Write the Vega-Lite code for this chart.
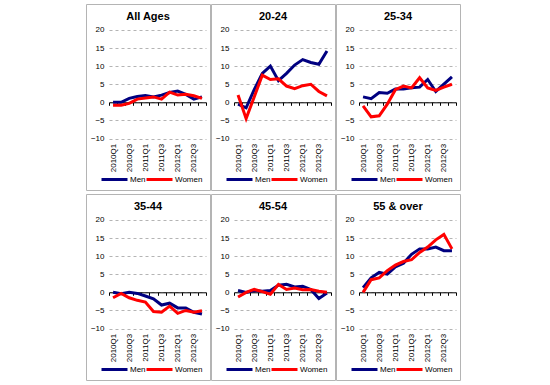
{
  "$schema": "https://vega.github.io/schema/vega-lite/v6.json",
  "padding": {"left": 81, "top": 3, "right": 0, "bottom": 0},
  "bounds": "flush",
  "datasets": {
    "d": [
      {"g": "All Ages", "s": "Men", "q": "2010Q1", "v": 0},
      {"g": "All Ages", "s": "Men", "q": "2010Q2", "v": 0},
      {"g": "All Ages", "s": "Men", "q": "2010Q3", "v": 1.1},
      {"g": "All Ages", "s": "Men", "q": "2010Q4", "v": 1.6},
      {"g": "All Ages", "s": "Men", "q": "2011Q1", "v": 1.9},
      {"g": "All Ages", "s": "Men", "q": "2011Q2", "v": 1.5},
      {"g": "All Ages", "s": "Men", "q": "2011Q3", "v": 2},
      {"g": "All Ages", "s": "Men", "q": "2011Q4", "v": 2.7},
      {"g": "All Ages", "s": "Men", "q": "2012Q1", "v": 3.1},
      {"g": "All Ages", "s": "Men", "q": "2012Q2", "v": 2.2},
      {"g": "All Ages", "s": "Men", "q": "2012Q3", "v": 0.9},
      {"g": "All Ages", "s": "Men", "q": "2012Q4", "v": 1.5},
      {"g": "All Ages", "s": "Women", "q": "2010Q1", "v": -0.8},
      {"g": "All Ages", "s": "Women", "q": "2010Q2", "v": -0.8},
      {"g": "All Ages", "s": "Women", "q": "2010Q3", "v": -0.3},
      {"g": "All Ages", "s": "Women", "q": "2010Q4", "v": 0.9},
      {"g": "All Ages", "s": "Women", "q": "2011Q1", "v": 1.2},
      {"g": "All Ages", "s": "Women", "q": "2011Q2", "v": 1.5},
      {"g": "All Ages", "s": "Women", "q": "2011Q3", "v": 0.9},
      {"g": "All Ages", "s": "Women", "q": "2011Q4", "v": 2.8},
      {"g": "All Ages", "s": "Women", "q": "2012Q1", "v": 2},
      {"g": "All Ages", "s": "Women", "q": "2012Q2", "v": 2.2},
      {"g": "All Ages", "s": "Women", "q": "2012Q3", "v": 1.8},
      {"g": "All Ages", "s": "Women", "q": "2012Q4", "v": 1.1},

      {"g": "20-24", "s": "Men", "q": "2010Q1", "v": -0.5},
      {"g": "20-24", "s": "Men", "q": "2010Q2", "v": -1.5},
      {"g": "20-24", "s": "Men", "q": "2010Q3", "v": 3.5},
      {"g": "20-24", "s": "Men", "q": "2010Q4", "v": 8},
      {"g": "20-24", "s": "Men", "q": "2011Q1", "v": 10},
      {"g": "20-24", "s": "Men", "q": "2011Q2", "v": 6},
      {"g": "20-24", "s": "Men", "q": "2011Q3", "v": 8},
      {"g": "20-24", "s": "Men", "q": "2011Q4", "v": 10.3},
      {"g": "20-24", "s": "Men", "q": "2012Q1", "v": 11.8},
      {"g": "20-24", "s": "Men", "q": "2012Q2", "v": 11},
      {"g": "20-24", "s": "Men", "q": "2012Q3", "v": 10.5},
      {"g": "20-24", "s": "Men", "q": "2012Q4", "v": 14.2},
      {"g": "20-24", "s": "Women", "q": "2010Q1", "v": 2},
      {"g": "20-24", "s": "Women", "q": "2010Q2", "v": -4.5},
      {"g": "20-24", "s": "Women", "q": "2010Q3", "v": 1.5},
      {"g": "20-24", "s": "Women", "q": "2010Q4", "v": 7.5},
      {"g": "20-24", "s": "Women", "q": "2011Q1", "v": 6.3},
      {"g": "20-24", "s": "Women", "q": "2011Q2", "v": 6.5},
      {"g": "20-24", "s": "Women", "q": "2011Q3", "v": 4.5},
      {"g": "20-24", "s": "Women", "q": "2011Q4", "v": 3.8},
      {"g": "20-24", "s": "Women", "q": "2012Q1", "v": 4.6},
      {"g": "20-24", "s": "Women", "q": "2012Q2", "v": 5},
      {"g": "20-24", "s": "Women", "q": "2012Q3", "v": 3},
      {"g": "20-24", "s": "Women", "q": "2012Q4", "v": 1.8},

      {"g": "25-34", "s": "Men", "q": "2010Q1", "v": 1.5},
      {"g": "25-34", "s": "Men", "q": "2010Q2", "v": 1},
      {"g": "25-34", "s": "Men", "q": "2010Q3", "v": 2.7},
      {"g": "25-34", "s": "Men", "q": "2010Q4", "v": 2.5},
      {"g": "25-34", "s": "Men", "q": "2011Q1", "v": 3.7},
      {"g": "25-34", "s": "Men", "q": "2011Q2", "v": 3.7},
      {"g": "25-34", "s": "Men", "q": "2011Q3", "v": 4},
      {"g": "25-34", "s": "Men", "q": "2011Q4", "v": 4.2},
      {"g": "25-34", "s": "Men", "q": "2012Q1", "v": 6.3},
      {"g": "25-34", "s": "Men", "q": "2012Q2", "v": 3},
      {"g": "25-34", "s": "Men", "q": "2012Q3", "v": 5},
      {"g": "25-34", "s": "Men", "q": "2012Q4", "v": 7},
      {"g": "25-34", "s": "Women", "q": "2010Q1", "v": -1},
      {"g": "25-34", "s": "Women", "q": "2010Q2", "v": -4},
      {"g": "25-34", "s": "Women", "q": "2010Q3", "v": -3.7},
      {"g": "25-34", "s": "Women", "q": "2010Q4", "v": -0.5},
      {"g": "25-34", "s": "Women", "q": "2011Q1", "v": 3.5},
      {"g": "25-34", "s": "Women", "q": "2011Q2", "v": 4.5},
      {"g": "25-34", "s": "Women", "q": "2011Q3", "v": 4},
      {"g": "25-34", "s": "Women", "q": "2011Q4", "v": 6.8},
      {"g": "25-34", "s": "Women", "q": "2012Q1", "v": 4},
      {"g": "25-34", "s": "Women", "q": "2012Q2", "v": 3.3},
      {"g": "25-34", "s": "Women", "q": "2012Q3", "v": 4.2},
      {"g": "25-34", "s": "Women", "q": "2012Q4", "v": 5},

      {"g": "35-44", "s": "Men", "q": "2010Q1", "v": 0},
      {"g": "35-44", "s": "Men", "q": "2010Q2", "v": -0.4},
      {"g": "35-44", "s": "Men", "q": "2010Q3", "v": 0},
      {"g": "35-44", "s": "Men", "q": "2010Q4", "v": -0.3},
      {"g": "35-44", "s": "Men", "q": "2011Q1", "v": -1},
      {"g": "35-44", "s": "Men", "q": "2011Q2", "v": -1.8},
      {"g": "35-44", "s": "Men", "q": "2011Q3", "v": -3.5},
      {"g": "35-44", "s": "Men", "q": "2011Q4", "v": -3},
      {"g": "35-44", "s": "Men", "q": "2012Q1", "v": -4.3},
      {"g": "35-44", "s": "Men", "q": "2012Q2", "v": -4.3},
      {"g": "35-44", "s": "Men", "q": "2012Q3", "v": -5.5},
      {"g": "35-44", "s": "Men", "q": "2012Q4", "v": -6},
      {"g": "35-44", "s": "Women", "q": "2010Q1", "v": -1.5},
      {"g": "35-44", "s": "Women", "q": "2010Q2", "v": -0.3},
      {"g": "35-44", "s": "Women", "q": "2010Q3", "v": -1.5},
      {"g": "35-44", "s": "Women", "q": "2010Q4", "v": -2.2},
      {"g": "35-44", "s": "Women", "q": "2011Q1", "v": -2.7},
      {"g": "35-44", "s": "Women", "q": "2011Q2", "v": -5.3},
      {"g": "35-44", "s": "Women", "q": "2011Q3", "v": -5.5},
      {"g": "35-44", "s": "Women", "q": "2011Q4", "v": -3.8},
      {"g": "35-44", "s": "Women", "q": "2012Q1", "v": -5.8},
      {"g": "35-44", "s": "Women", "q": "2012Q2", "v": -5},
      {"g": "35-44", "s": "Women", "q": "2012Q3", "v": -5.5},
      {"g": "35-44", "s": "Women", "q": "2012Q4", "v": -5.1},

      {"g": "45-54", "s": "Men", "q": "2010Q1", "v": 0.5},
      {"g": "45-54", "s": "Men", "q": "2010Q2", "v": 0},
      {"g": "45-54", "s": "Men", "q": "2010Q3", "v": 0.5},
      {"g": "45-54", "s": "Men", "q": "2010Q4", "v": 0.3},
      {"g": "45-54", "s": "Men", "q": "2011Q1", "v": 0.5},
      {"g": "45-54", "s": "Men", "q": "2011Q2", "v": 2},
      {"g": "45-54", "s": "Men", "q": "2011Q3", "v": 2.2},
      {"g": "45-54", "s": "Men", "q": "2011Q4", "v": 1.5},
      {"g": "45-54", "s": "Men", "q": "2012Q1", "v": 1.7},
      {"g": "45-54", "s": "Men", "q": "2012Q2", "v": 0.8},
      {"g": "45-54", "s": "Men", "q": "2012Q3", "v": -1.7},
      {"g": "45-54", "s": "Men", "q": "2012Q4", "v": -0.2},
      {"g": "45-54", "s": "Women", "q": "2010Q1", "v": -1.3},
      {"g": "45-54", "s": "Women", "q": "2010Q2", "v": 0},
      {"g": "45-54", "s": "Women", "q": "2010Q3", "v": 0.8},
      {"g": "45-54", "s": "Women", "q": "2010Q4", "v": 0.2},
      {"g": "45-54", "s": "Women", "q": "2011Q1", "v": -0.5},
      {"g": "45-54", "s": "Women", "q": "2011Q2", "v": 2.2},
      {"g": "45-54", "s": "Women", "q": "2011Q3", "v": 0.8},
      {"g": "45-54", "s": "Women", "q": "2011Q4", "v": 1.2},
      {"g": "45-54", "s": "Women", "q": "2012Q1", "v": 0.7},
      {"g": "45-54", "s": "Women", "q": "2012Q2", "v": 0.8},
      {"g": "45-54", "s": "Women", "q": "2012Q3", "v": 0.3},
      {"g": "45-54", "s": "Women", "q": "2012Q4", "v": 0},

      {"g": "55 & over", "s": "Men", "q": "2010Q1", "v": 1.3},
      {"g": "55 & over", "s": "Men", "q": "2010Q2", "v": 4},
      {"g": "55 & over", "s": "Men", "q": "2010Q3", "v": 5.5},
      {"g": "55 & over", "s": "Men", "q": "2010Q4", "v": 5},
      {"g": "55 & over", "s": "Men", "q": "2011Q1", "v": 7},
      {"g": "55 & over", "s": "Men", "q": "2011Q2", "v": 8},
      {"g": "55 & over", "s": "Men", "q": "2011Q3", "v": 10.5},
      {"g": "55 & over", "s": "Men", "q": "2011Q4", "v": 12},
      {"g": "55 & over", "s": "Men", "q": "2012Q1", "v": 12},
      {"g": "55 & over", "s": "Men", "q": "2012Q2", "v": 12.5},
      {"g": "55 & over", "s": "Men", "q": "2012Q3", "v": 11.5},
      {"g": "55 & over", "s": "Men", "q": "2012Q4", "v": 11.5},
      {"g": "55 & over", "s": "Women", "q": "2010Q1", "v": 0},
      {"g": "55 & over", "s": "Women", "q": "2010Q2", "v": 3.5},
      {"g": "55 & over", "s": "Women", "q": "2010Q3", "v": 4},
      {"g": "55 & over", "s": "Women", "q": "2010Q4", "v": 6},
      {"g": "55 & over", "s": "Women", "q": "2011Q1", "v": 7.5},
      {"g": "55 & over", "s": "Women", "q": "2011Q2", "v": 8.5},
      {"g": "55 & over", "s": "Women", "q": "2011Q3", "v": 9},
      {"g": "55 & over", "s": "Women", "q": "2011Q4", "v": 11},
      {"g": "55 & over", "s": "Women", "q": "2012Q1", "v": 12.5},
      {"g": "55 & over", "s": "Women", "q": "2012Q2", "v": 14.5},
      {"g": "55 & over", "s": "Women", "q": "2012Q3", "v": 16},
      {"g": "55 & over", "s": "Women", "q": "2012Q4", "v": 12}
    ]
  },
  "data": {"name": "d"},
  "config": {
    "font": "Liberation Sans",
    "view": {"stroke": "#b4b4b4", "strokeWidth": 1},
    "title": {"fontSize": 11, "fontWeight": "bold", "color": "black", "offset": -18, "baseline": "alphabetic", "frame": "group", "anchor": "middle"},
    "axis": {"labelFont": "Liberation Sans", "labelFontSize": 8, "labelColor": "black", "title": null, "minExtent": 0, "maxExtent": 200},
    "legend": {"orient": "none", "legendX": 14, "legendY": 161, "direction": "horizontal", "gridAlign": "none", "symbolType": "stroke", "symbolSize": 676, "symbolStrokeWidth": 3, "labelFontSize": 8, "labelColor": "black", "labelOffset": 1, "columnPadding": -6, "title": null, "padding": 0}
  },
  "columns": 3,
  "spacing": {"row": 4, "column": 1},
  "resolve": {"scale": {"color": "independent"}, "legend": {"color": "independent"}},
  "concat": [
    {"title": "All Ages", "width": 124, "height": 186,
     "transform": [{"filter": "datum.g === 'All Ages'"}],
     "mark": {"type": "line", "strokeWidth": 3},
     "encoding": {
       "x": {"field": "q", "type": "ordinal", "scale": {"type": "band", "domain": ["2010Q1","2010Q2","2010Q3","2010Q4","2011Q1","2011Q2","2011Q3","2011Q4","2012Q1","2012Q2","2012Q3","2012Q4"], "range": [23, 120], "paddingInner": 0, "paddingOuter": 0},
             "axis": {"offset": -87.7, "tickBand": "extent", "domainColor": "black", "tickColor": "black", "tickSize": 3, "labelAngle": -90, "labelPadding": 38, "labelOverlap": false, "grid": false, "labelExpr": "indexof(['2010Q1','2010Q3','2011Q1','2011Q3','2012Q1','2012Q3'], datum.value) >= 0 ? datum.value : ''"}},
       "y": {"field": "v", "type": "quantitative", "scale": {"domain": [-24.2, 27.15], "nice": false, "zero": false},
             "axis": {"values": [-10, -5, 0, 5, 10, 15, 20], "offset": -23, "domain": false, "ticks": false, "labelPadding": 5, "grid": true, "gridColor": "#b4b4b4", "gridDash": [3, 3]}},
       "color": {"field": "s", "type": "nominal", "scale": {"domain": ["Men", "Women"], "range": ["#000080", "#ff0000"]}}
     }},
    {"title": "20-24", "width": 124, "height": 186,
     "transform": [{"filter": "datum.g === '20-24'"}],
     "mark": {"type": "line", "strokeWidth": 3},
     "encoding": {
       "x": {"field": "q", "type": "ordinal", "scale": {"type": "band", "domain": ["2010Q1","2010Q2","2010Q3","2010Q4","2011Q1","2011Q2","2011Q3","2011Q4","2012Q1","2012Q2","2012Q3","2012Q4"], "range": [23, 120], "paddingInner": 0, "paddingOuter": 0},
             "axis": {"offset": -87.7, "tickBand": "extent", "domainColor": "black", "tickColor": "black", "tickSize": 3, "labelAngle": -90, "labelPadding": 38, "labelOverlap": false, "grid": false, "labelExpr": "indexof(['2010Q1','2010Q3','2011Q1','2011Q3','2012Q1','2012Q3'], datum.value) >= 0 ? datum.value : ''"}},
       "y": {"field": "v", "type": "quantitative", "scale": {"domain": [-24.2, 27.15], "nice": false, "zero": false},
             "axis": {"values": [-10, -5, 0, 5, 10, 15, 20], "offset": -23, "domain": false, "ticks": false, "labelPadding": 5, "grid": true, "gridColor": "#b4b4b4", "gridDash": [3, 3]}},
       "color": {"field": "s", "type": "nominal", "scale": {"domain": ["Men", "Women"], "range": ["#000080", "#ff0000"]}}
     }},
    {"title": "25-34", "width": 124, "height": 186,
     "transform": [{"filter": "datum.g === '25-34'"}],
     "mark": {"type": "line", "strokeWidth": 3},
     "encoding": {
       "x": {"field": "q", "type": "ordinal", "scale": {"type": "band", "domain": ["2010Q1","2010Q2","2010Q3","2010Q4","2011Q1","2011Q2","2011Q3","2011Q4","2012Q1","2012Q2","2012Q3","2012Q4"], "range": [23, 120], "paddingInner": 0, "paddingOuter": 0},
             "axis": {"offset": -87.7, "tickBand": "extent", "domainColor": "black", "tickColor": "black", "tickSize": 3, "labelAngle": -90, "labelPadding": 38, "labelOverlap": false, "grid": false, "labelExpr": "indexof(['2010Q1','2010Q3','2011Q1','2011Q3','2012Q1','2012Q3'], datum.value) >= 0 ? datum.value : ''"}},
       "y": {"field": "v", "type": "quantitative", "scale": {"domain": [-24.2, 27.15], "nice": false, "zero": false},
             "axis": {"values": [-10, -5, 0, 5, 10, 15, 20], "offset": -23, "domain": false, "ticks": false, "labelPadding": 5, "grid": true, "gridColor": "#b4b4b4", "gridDash": [3, 3]}},
       "color": {"field": "s", "type": "nominal", "scale": {"domain": ["Men", "Women"], "range": ["#000080", "#ff0000"]}}
     }},
    {"title": "35-44", "width": 124, "height": 186,
     "transform": [{"filter": "datum.g === '35-44'"}],
     "mark": {"type": "line", "strokeWidth": 3},
     "encoding": {
       "x": {"field": "q", "type": "ordinal", "scale": {"type": "band", "domain": ["2010Q1","2010Q2","2010Q3","2010Q4","2011Q1","2011Q2","2011Q3","2011Q4","2012Q1","2012Q2","2012Q3","2012Q4"], "range": [23, 120], "paddingInner": 0, "paddingOuter": 0},
             "axis": {"offset": -87.7, "tickBand": "extent", "domainColor": "black", "tickColor": "black", "tickSize": 3, "labelAngle": -90, "labelPadding": 38, "labelOverlap": false, "grid": false, "labelExpr": "indexof(['2010Q1','2010Q3','2011Q1','2011Q3','2012Q1','2012Q3'], datum.value) >= 0 ? datum.value : ''"}},
       "y": {"field": "v", "type": "quantitative", "scale": {"domain": [-24.2, 27.15], "nice": false, "zero": false},
             "axis": {"values": [-10, -5, 0, 5, 10, 15, 20], "offset": -23, "domain": false, "ticks": false, "labelPadding": 5, "grid": true, "gridColor": "#b4b4b4", "gridDash": [3, 3]}},
       "color": {"field": "s", "type": "nominal", "scale": {"domain": ["Men", "Women"], "range": ["#000080", "#ff0000"]}}
     }},
    {"title": "45-54", "width": 124, "height": 186,
     "transform": [{"filter": "datum.g === '45-54'"}],
     "mark": {"type": "line", "strokeWidth": 3},
     "encoding": {
       "x": {"field": "q", "type": "ordinal", "scale": {"type": "band", "domain": ["2010Q1","2010Q2","2010Q3","2010Q4","2011Q1","2011Q2","2011Q3","2011Q4","2012Q1","2012Q2","2012Q3","2012Q4"], "range": [23, 120], "paddingInner": 0, "paddingOuter": 0},
             "axis": {"offset": -87.7, "tickBand": "extent", "domainColor": "black", "tickColor": "black", "tickSize": 3, "labelAngle": -90, "labelPadding": 38, "labelOverlap": false, "grid": false, "labelExpr": "indexof(['2010Q1','2010Q3','2011Q1','2011Q3','2012Q1','2012Q3'], datum.value) >= 0 ? datum.value : ''"}},
       "y": {"field": "v", "type": "quantitative", "scale": {"domain": [-24.2, 27.15], "nice": false, "zero": false},
             "axis": {"values": [-10, -5, 0, 5, 10, 15, 20], "offset": -23, "domain": false, "ticks": false, "labelPadding": 5, "grid": true, "gridColor": "#b4b4b4", "gridDash": [3, 3]}},
       "color": {"field": "s", "type": "nominal", "scale": {"domain": ["Men", "Women"], "range": ["#000080", "#ff0000"]}}
     }},
    {"title": "55 & over", "width": 124, "height": 186,
     "transform": [{"filter": "datum.g === '55 & over'"}],
     "mark": {"type": "line", "strokeWidth": 3},
     "encoding": {
       "x": {"field": "q", "type": "ordinal", "scale": {"type": "band", "domain": ["2010Q1","2010Q2","2010Q3","2010Q4","2011Q1","2011Q2","2011Q3","2011Q4","2012Q1","2012Q2","2012Q3","2012Q4"], "range": [23, 120], "paddingInner": 0, "paddingOuter": 0},
             "axis": {"offset": -87.7, "tickBand": "extent", "domainColor": "black", "tickColor": "black", "tickSize": 3, "labelAngle": -90, "labelPadding": 38, "labelOverlap": false, "grid": false, "labelExpr": "indexof(['2010Q1','2010Q3','2011Q1','2011Q3','2012Q1','2012Q3'], datum.value) >= 0 ? datum.value : ''"}},
       "y": {"field": "v", "type": "quantitative", "scale": {"domain": [-24.2, 27.15], "nice": false, "zero": false},
             "axis": {"values": [-10, -5, 0, 5, 10, 15, 20], "offset": -23, "domain": false, "ticks": false, "labelPadding": 5, "grid": true, "gridColor": "#b4b4b4", "gridDash": [3, 3]}},
       "color": {"field": "s", "type": "nominal", "scale": {"domain": ["Men", "Women"], "range": ["#000080", "#ff0000"]}}
     }}
  ]
}
